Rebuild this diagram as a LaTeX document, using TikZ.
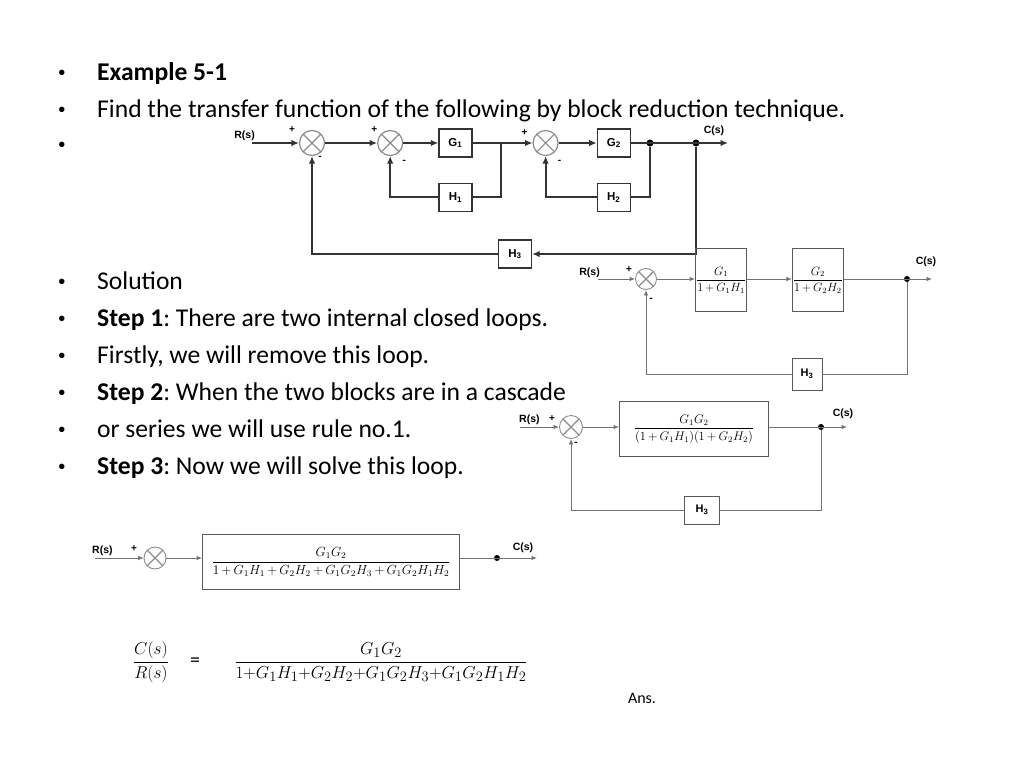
\documentclass[tikz,border=0pt]{standalone}
\usepackage{amsmath}
\usepackage{fontspec}
\setmainfont{Carlito}
\newfontfamily\arialfont{Liberation Sans}
\frenchspacing
\usetikzlibrary{positioning,calc}
\usetikzlibrary{arrows.meta,arrows}
\colorlet{lineGray}{black!80}
\colorlet{thinGray}{black!55}
\colorlet{sumGray}{black!45}
\newcommand{\tightmath}{\medmuskip=3mu\relax}
\tikzset{%
  % Specifications for style of nodes:
    >={Latex[width=6.5pt,length=7.5pt]},
    bulletText/.style = {anchor=base west, inner sep=0, font=\fontsize{25.6}{30}\selectfont},
    bulletDot/.style = {anchor=base, inner sep=0, font=\arialfont\fontsize{20}{24}\selectfont},
    sumNode/.style = {circle, draw=sumGray, line width=1.2pt, inner sep=0, minimum size=#1,
      path picture={\draw[sumGray, line width=1.2pt] (path picture bounding box.south west) -- (path picture bounding box.north east)
        (path picture bounding box.north west) -- (path picture bounding box.south east);}},
    sumNode/.default = 25pt,
    blockNode/.style = {rectangle, draw=lineGray, line width=1.2pt, inner sep=0, minimum width=33pt, minimum height=28pt,
      font=\arialfont\bfseries\fontsize{11.5}{13}\selectfont},
    fracBlock/.style = {rectangle, draw=black!65, line width=0.9pt, inner sep=0.5pt,
      font=\fontsize{12}{15}\selectfont\tightmath},
    sigLabel/.style = {inner sep=0, font=\arialfont\bfseries\fontsize{10.5}{12}\selectfont},
    signLabel/.style = {inner sep=0, font=\arialfont\bfseries\fontsize{10}{11}\selectfont},
    dotNode/.style = {circle, fill=black, inner sep=0, minimum size=#1},
    dotNode/.default = 7pt,
    topLine/.style = {line width=1.8pt, draw=lineGray},
    thinLine/.style = {line width=0.9pt, draw=thinGray, >={Latex[width=4.5pt,length=5.5pt]}},
}

\begin{document}
\begin{tikzpicture}[x=1pt,y=1pt]
	\fill[white] (0,0) rectangle (1024,-768);
	\useasboundingbox (0,0) rectangle (1024,-768);

	% bullet list
	\node [bulletDot] (dot1) at (62,-79) {\textbullet};
	\node [bulletDot] (dot2) at (62,-116) {\textbullet};
	\node [bulletDot] (dot3) at (62,-151) {\textbullet};
	\node [bulletDot] (dot4) at (62,-288) {\textbullet};
	\node [bulletDot] (dot5) at (62,-325) {\textbullet};
	\node [bulletDot] (dot6) at (62,-362) {\textbullet};
	\node [bulletDot] (dot7) at (62,-399) {\textbullet};
	\node [bulletDot] (dot8) at (62,-436) {\textbullet};
	\node [bulletDot] (dot9) at (62,-473) {\textbullet};
	\node [bulletText] (line1) at (97,-80) {\textbf{Example 5-1}};
	\node [bulletText] (line2) at (97,-117) {Find the transfer function of the following by block reduction technique.};
	\node [bulletText] (line4) at (97,-289) {Solution};
	\node [bulletText] (line5) at (97,-326) {\textbf{Step 1}: There are two internal closed loops.};
	\node [bulletText] (line6) at (97,-363) {Firstly, we will remove this loop.};
	\node [bulletText] (line7) at (97,-400) {\textbf{Step 2}: When the two blocks are in a cascade};
	\node [bulletText] (line8) at (97,-437) {or series we will use rule no.1.};
	\node [bulletText] (line9) at (97,-474) {\textbf{Step 3}: Now we will solve this loop.};

	% original system
	\coordinate (in1) at (252,-143);
	\node [sigLabel, anchor=south east] (rs1) at (255,-141) {R(s)};
	\node [sumNode] (sum1) at (312,-143) {};
	\node [sumNode, right=52pt of sum1] (sum2) {};
	\node [blockNode, right=35pt of sum2] (g1) {G\textsubscript{1}};
	\node [sumNode, right=60pt of g1] (sum3) {};
	\node [blockNode, right=38pt of sum3] (g2) {G\textsubscript{2}};
	\node [blockNode, below=25pt of g1] (h1) {H\textsubscript{1}};
	\node [blockNode, below=25pt of g2] (h2) {H\textsubscript{2}};
	\node [blockNode] (h3) at (515,-254) {H\textsubscript{3}};
	\coordinate (br1) at ($(g1.east)!0.47!(sum3.west)$);
	\node [dotNode] (d1) at (650,-143) {};
	\node [dotNode] (d2) at (696,-143) {};
	\coordinate (out1) at (728,-143);
	\node [sigLabel] (cs1) at (714,-131) {C(s)};
	\node [signLabel] at ($(sum1)+(-20,13)$) {+};
	\node [signLabel] at ($(sum1)+(8,-15)$) {-};
	\node [signLabel] at ($(sum2)+(-16,13)$) {+};
	\node [signLabel] at ($(sum2)+(14,-19)$) {-};
	\node [signLabel] at ($(sum3)+(-21,10)$) {+};
	\node [signLabel] at ($(sum3)+(14,-19)$) {-};

	\draw[topLine,->] (in1) -- (sum1);
	\draw[topLine,->] (sum1) -- (sum2);
	\draw[topLine,->] (sum2) -- (g1);
	\draw[topLine,->] (g1) -- (sum3);
	\draw[topLine,->] (sum3) -- (g2);
	\draw[topLine,->] (g2) -- (out1);
	\draw[topLine] (br1) |- (h1.east);
	\draw[topLine,->] (h1.west) -| (sum2.south);
	\draw[topLine] (d1) |- (h2.east);
	\draw[topLine,->] (h2.west) -| (sum3.south);
	\draw[topLine,->] (d2) |- (h3.east);
	\draw[topLine,->] (h3.west) -| (sum1.south);

	% step 1
	\coordinate (in2) at (598,-279);
	\node [sigLabel, anchor=south east] (rs2) at (600,-278) {R(s)};
	\node [sumNode=21pt, line width=0.9pt] (sum4) at (646,-279) {};
	\node [fracBlock, minimum width=50pt, minimum height=63pt] (b21) at (721,-280) {$\dfrac{G_1}{1+G_1H_1}$};
	\node [fracBlock, minimum width=50pt, minimum height=63pt, right=45pt of b21] (b22) {$\dfrac{G_2}{1+G_2H_2}$};
	\node [dotNode=6pt] (d3) at (907,-279) {};
	\coordinate (out2) at (932,-279);
	\node [sigLabel] (cs2) at (926,-262) {C(s)};
	\node [fracBlock, font=\arialfont\bfseries\fontsize{11}{13}\selectfont, minimum width=30pt, minimum height=32pt] (h32) at (807,-374) {H\textsubscript{3}};
	\node [signLabel] at ($(sum4)+(-17,9)$) {+};
	\node [signLabel] at ($(sum4)+(5,-21)$) {-};

	\draw[thinLine,->] (in2) -- (sum4);
	\draw[thinLine,->] (sum4) -- (sum4 -| b21.west);
	\draw[thinLine,->] (b21.east |- sum4) -- (sum4 -| b22.west);
	\draw[thinLine,->] (b22.east |- sum4) -- (out2);
	\draw[thinLine] (d3) |- (h32.east);
	\draw[thinLine,->] (h32.west) -| (sum4.south);

	% step 2
	\coordinate (in3) at (520,-427);
	\node [sigLabel, anchor=south west] (rs3) at (519,-425) {R(s)};
	\node [sumNode=23pt, line width=0.9pt] (sum5) at (571,-427) {};
	\node [fracBlock, minimum width=149pt, minimum height=55pt] (b3) at (694,-429) {\scalebox{1.04}{$\dfrac{G_1G_2}{(1+G_1H_1)(1+G_2H_2)}$}};
	\node [dotNode=6pt] (d4) at (821,-427) {};
	\coordinate (out3) at (847,-427);
	\node [sigLabel] (cs3) at (843,-414) {C(s)};
	\node [fracBlock, font=\arialfont\bfseries\fontsize{11}{13}\selectfont, minimum width=35pt, minimum height=28pt] (h33) at (702,-510) {H\textsubscript{3}};
	\node [signLabel] at ($(sum5)+(-19,8)$) {+};
	\node [signLabel] at ($(sum5)+(5,-17)$) {-};

	\draw[thinLine,->] (in3) -- (sum5);
	\draw[thinLine,->] (sum5) -- (sum5 -| b3.west);
	\draw[thinLine,->] (b3.east |- sum5) -- (out3);
	\draw[thinLine] (d4) |- (h33.east);
	\draw[thinLine,->] (h33.west) -| (sum5.south);

	% step 3
	\coordinate (in4) at (95,-558);
	\node [sigLabel, anchor=south west] (rs4) at (92,-556) {R(s)};
	\node [sumNode=22pt, line width=0.9pt] (sum6) at (155,-558) {};
	\node [fracBlock, minimum width=257pt, minimum height=55pt] (b4) at (331,-562) {\scalebox{1.1}{$\dfrac{G_1G_2}{1+G_1H_1+G_2H_2+G_1G_2H_3+G_1G_2H_1H_2}$}};
	\node [dotNode=6pt] (d5) at (497,-558) {};
	\coordinate (out4) at (537,-558);
	\node [sigLabel] (cs4) at (523,-548) {C(s)};
	\node [signLabel] at ($(sum6)+(-21,9)$) {+};

	\draw[thinLine,->] (in4) -- (sum6);
	\draw[thinLine,->] (sum6) -- (sum6 -| b4.west);
	\draw[thinLine,->] (b4.east |- sum6) -- (out4);

	% final answer
	\node [font=\fontsize{19}{22}\selectfont] (lhs) at (151,-662) {$\dfrac{C(s)}{R(s)}$};
	\node [font=\fontsize{20}{22}\selectfont, right=14pt of lhs] (eqSign) {=};
	\node [font=\fontsize{19}{22}\selectfont] (rhs) at (381,-662) {$\dfrac{G_1G_2}{1{+}G_1H_1{+}G_2H_2{+}G_1G_2H_3{+}G_1G_2H_1H_2}$};
	\node [font=\fontsize{16}{18}\selectfont] (ans) at (642,-698) {Ans.};
\end{tikzpicture}
\end{document}
